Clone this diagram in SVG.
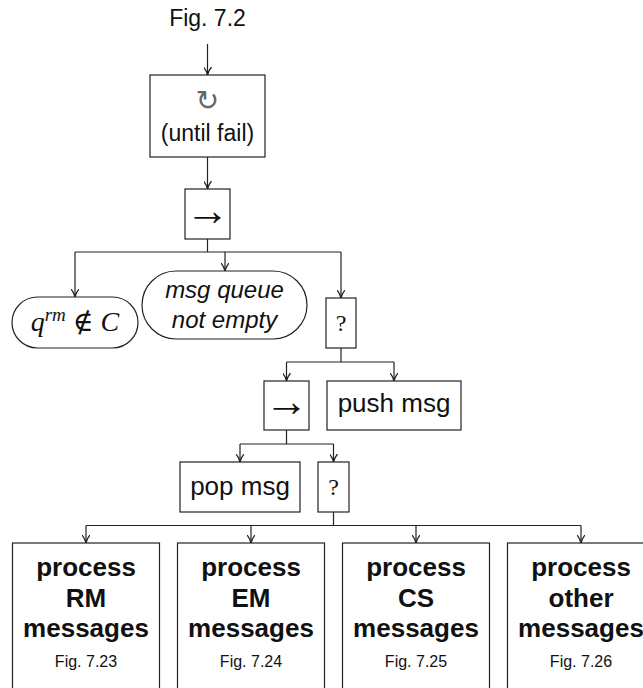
<svg xmlns="http://www.w3.org/2000/svg" width="643" height="688" viewBox="0 0 643 688">
<defs>
<style>
.box{fill:#fff;stroke:#222;stroke-width:1.2}
.ln{fill:none;stroke:#222;stroke-width:1.2}
.t{font-family:"Liberation Sans",Arial,sans-serif;fill:#111;text-anchor:middle}
.ti{font-family:"Liberation Sans",Arial,sans-serif;font-style:italic;fill:#111;text-anchor:middle;font-size:24px}
.s{font-family:"Liberation Serif","DejaVu Serif",serif;fill:#111;text-anchor:middle}
.ar{font-family:"Liberation Serif",serif;font-weight:normal;fill:#111;text-anchor:middle;font-size:44px}
.b{font-family:"Liberation Sans",Arial,sans-serif;font-weight:bold;fill:#111;text-anchor:middle;font-size:26px}
.f{font-family:"Liberation Sans",Arial,sans-serif;fill:#111;text-anchor:middle;font-size:16px}
</style>
<marker id="ah" viewBox="0 0 10 10" refX="10" refY="5" markerWidth="8" markerHeight="8" markerUnits="userSpaceOnUse" orient="auto">
<path d="M0,0 Q5,4 10,5 Q5,6 0,10" fill="none" stroke="#222" stroke-width="1.6"/>
</marker>
</defs>
<text class="t" x="207.5" y="26" font-size="23">Fig. 7.2</text>
<g id="connectors">
<path class="ln" d="M207.5,44 V75" marker-end="url(#ah)"/>
<path class="ln" d="M207.5,157 V189" marker-end="url(#ah)"/>
<path class="ln" d="M207.5,239 V252"/>
<path class="ln" d="M75,252 H341"/>
<path class="ln" d="M75,252 V297" marker-end="url(#ah)"/>
<path class="ln" d="M225,252 V271" marker-end="url(#ah)"/>
<path class="ln" d="M341,252 V298" marker-end="url(#ah)"/>
<path class="ln" d="M341,348 V362 M286.5,362 H394"/>
<path class="ln" d="M286.5,362 V381" marker-end="url(#ah)"/>
<path class="ln" d="M394,362 V381" marker-end="url(#ah)"/>
<path class="ln" d="M286.5,430 V444 M240,444 H333.5"/>
<path class="ln" d="M240,444 V462" marker-end="url(#ah)"/>
<path class="ln" d="M333.5,444 V462" marker-end="url(#ah)"/>
<path class="ln" d="M333.5,512 V525.5 M86,525.5 H581"/>
<path class="ln" d="M86,525.5 V543" marker-end="url(#ah)"/>
<path class="ln" d="M251,525.5 V543" marker-end="url(#ah)"/>
<path class="ln" d="M416,525.5 V543" marker-end="url(#ah)"/>
<path class="ln" d="M581,525.5 V543" marker-end="url(#ah)"/>
</g>
<g id="repeat">
<rect class="box" x="150" y="75" width="115" height="82"/>
<text x="207.5" y="110" font-family="DejaVu Sans,sans-serif" font-size="28" fill="#666" text-anchor="middle">↻</text>
<text class="t" x="207.5" y="141" font-size="23">(until fail)</text>
</g>
<g id="seq1">
<rect class="box" x="185" y="189" width="45" height="50"/>
<text class="ar" x="207.5" y="225">→</text>
</g>
<g id="cond1">
<rect class="box" x="12" y="297" width="126" height="51" rx="25.5"/>
<text x="75" y="331" font-family="Liberation Serif,DejaVu Serif,serif" font-size="28" fill="#111" text-anchor="middle"><tspan font-style="italic">q</tspan><tspan font-style="italic" font-size="19" dy="-10">rm</tspan><tspan dy="10" dx="7">∉</tspan><tspan dx="7" font-style="italic">C</tspan></text>
</g>
<g id="cond2">
<rect class="box" x="142" y="271" width="165" height="68" rx="34"/>
<text class="ti" x="224.5" y="298">msg queue</text>
<text class="ti" x="224.5" y="328">not empty</text>
</g>
<g id="fallback1">
<rect class="box" x="326" y="298" width="30" height="50"/>
<text class="s" x="341" y="331" font-size="24">?</text>
</g>
<g id="seq2">
<rect class="box" x="264" y="381" width="45" height="49"/>
<text class="ar" x="286.5" y="416">→</text>
</g>
<g id="push">
<rect class="box" x="327" y="381" width="134" height="49"/>
<text class="t" x="394" y="412" font-size="26">push msg</text>
</g>
<g id="pop">
<rect class="box" x="180" y="462" width="120" height="50"/>
<text class="t" x="240" y="495" font-size="26">pop msg</text>
</g>
<g id="fallback2">
<rect class="box" x="318" y="462" width="31" height="50"/>
<text class="s" x="333.5" y="495" font-size="24">?</text>
</g>
<g id="rm">
<rect class="box" x="12.5" y="543" width="147" height="160"/>
<text class="b" x="86" y="576">process</text>
<text class="b" x="86" y="607">RM</text>
<text class="b" x="86" y="637">messages</text>
<text class="f" x="86" y="667">Fig. 7.23</text>
</g>
<g id="em">
<rect class="box" x="177.5" y="543" width="147" height="160"/>
<text class="b" x="251" y="576">process</text>
<text class="b" x="251" y="607">EM</text>
<text class="b" x="251" y="637">messages</text>
<text class="f" x="251" y="667">Fig. 7.24</text>
</g>
<g id="cs">
<rect class="box" x="342.5" y="543" width="147" height="160"/>
<text class="b" x="416" y="576">process</text>
<text class="b" x="416" y="607">CS</text>
<text class="b" x="416" y="637">messages</text>
<text class="f" x="416" y="667">Fig. 7.25</text>
</g>
<g id="other">
<rect class="box" x="507.5" y="543" width="147" height="160"/>
<text class="b" x="581" y="576">process</text>
<text class="b" x="581" y="607">other</text>
<text class="b" x="581" y="637">messages</text>
<text class="f" x="581" y="667">Fig. 7.26</text>
</g>
</svg>
